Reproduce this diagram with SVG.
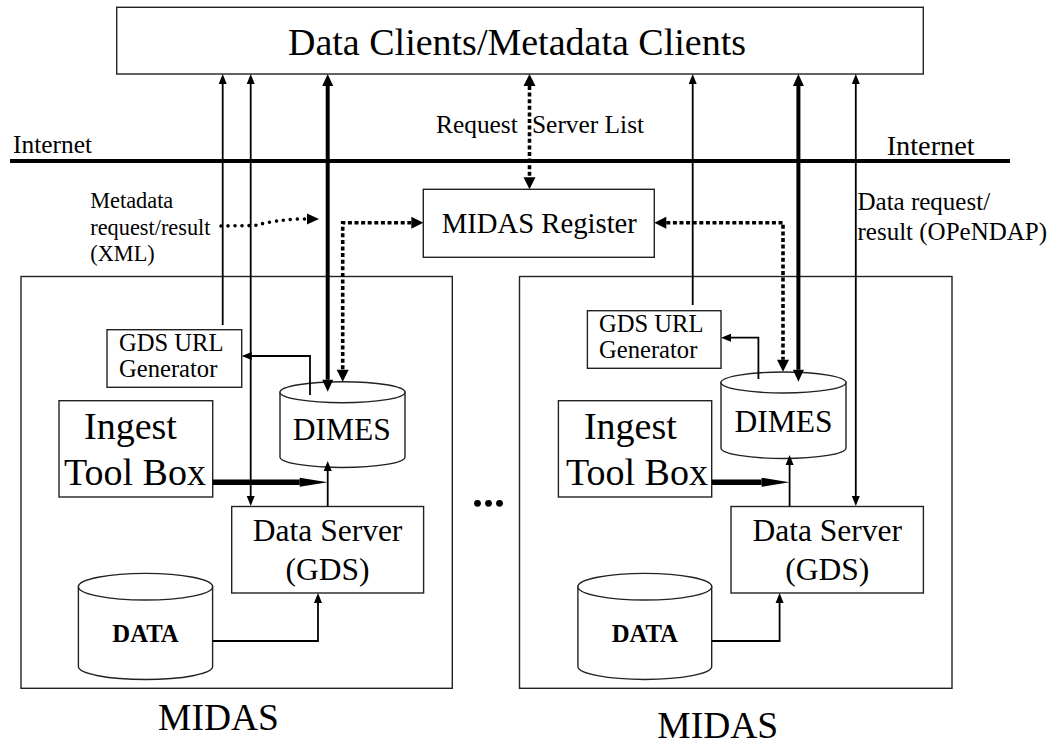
<svg xmlns="http://www.w3.org/2000/svg" width="1055" height="744" viewBox="0 0 1055 744">
  <style>
    text { font-family: "Liberation Serif", "Times New Roman", serif; fill: #000; }
    .box { fill: #fff; stroke: #222; stroke-width: 1.4; }
    .frame { fill: none; stroke: #222; stroke-width: 1.4; }
    .cyl { fill: #fff; stroke: #222; stroke-width: 1.4; }
    .thin { fill: none; stroke: #000; stroke-width: 1.8; }
    .thick { fill: none; stroke: #000; stroke-width: 4; }
    .heavy { fill: none; stroke: #000; stroke-width: 5.5; }
    .dash { fill: none; stroke: #000; stroke-width: 3.6; stroke-dasharray: 4 2.6; }
    .dots { fill: none; stroke: #000; stroke-width: 3.6; stroke-dasharray: 0 7; stroke-linecap: round; }
    .net { fill: none; stroke: #000; stroke-width: 4; }
    .gen { font-size: 24.6px; }
  </style>
  <defs>
    <marker id="ah-thin" markerUnits="userSpaceOnUse" markerWidth="12" markerHeight="10" refX="0" refY="4" orient="auto-start-reverse" viewBox="0 0 12 8" overflow="visible">
      <path d="M0,0 L10,4 L0,8 Z" fill="#000"/>
    </marker>
    <marker id="ah-thick" markerUnits="userSpaceOnUse" markerWidth="14" markerHeight="12" refX="0" refY="5.5" orient="auto-start-reverse" viewBox="0 0 14 11" overflow="visible">
      <path d="M0,0 L12,5.5 L0,11 Z" fill="#000"/>
    </marker>
    <marker id="ah-long" markerUnits="userSpaceOnUse" markerWidth="30" markerHeight="10" refX="0" refY="4.5" orient="auto" viewBox="0 0 30 9" overflow="visible">
      <path d="M0,0 L28,4.5 L0,9 Z" fill="#000"/>
    </marker>
    <marker id="ah-dot" markerUnits="userSpaceOnUse" markerWidth="14" markerHeight="13" refX="0" refY="6" orient="auto-start-reverse" viewBox="0 0 14 12" overflow="visible">
      <path d="M0,0 L12,6 L0,12 Z" fill="#000"/>
    </marker>
  </defs>

  <rect width="1055" height="744" fill="#fff"/>

  <!-- Clients bar -->
  <g id="clients">
    <rect class="box" x="116.7" y="7.3" width="806.6" height="66.7"/>
    <text x="288" y="55" font-size="38">Data Clients/Metadata Clients</text>
  </g>

  <!-- Internet boundary -->
  <g id="internet">
    <line class="net" x1="10" y1="161" x2="1010" y2="161"/>
    <text x="13" y="152.7" font-size="25.4">Internet</text>
    <text x="886.7" y="155" font-size="28.3">Internet</text>
  </g>

  <!-- Registry -->
  <g id="register">
    <rect class="box" x="423.3" y="189.3" width="231" height="68"/>
    <text x="441.7" y="233.3" font-size="28.7">MIDAS Register</text>
  </g>

  <!-- Left MIDAS site -->
  <g id="midas-left">
    <rect class="frame" x="21" y="276.5" width="431.3" height="411.8"/>
    <text x="218.5" y="730" font-size="37.5" text-anchor="middle">MIDAS</text>
  </g>
  <g id="gds-url-left">
    <rect class="box" x="107" y="329.7" width="134.7" height="57.6"/>
    <text class="gen" x="119" y="351">GDS URL</text>
    <text class="gen" x="119" y="377">Generator</text>
  </g>
  <g id="ingest-left">
    <rect class="box" x="59" y="400.7" width="153.7" height="96.3"/>
    <text x="84" y="439" font-size="38">Ingest</text>
    <text x="64" y="485" font-size="38">Tool Box</text>
  </g>
  <g id="dimes-left">
    <path class="cyl" d="M280,392.2 L280,457 A62.5,10.5 0 0 0 405,457 L405,392.2 Z"/>
    <ellipse class="cyl" cx="342.5" cy="392.2" rx="62.5" ry="10.5"/>
    <text x="341.7" y="440" font-size="31.5" text-anchor="middle">DIMES</text>
  </g>
  <g id="server-left">
    <rect class="box" x="231.7" y="506.5" width="191.9" height="86.5"/>
    <text x="327.6" y="541" font-size="31.5" text-anchor="middle">Data Server</text>
    <text x="327.6" y="580" font-size="31.5" text-anchor="middle">(GDS)</text>
  </g>
  <g id="data-left">
    <path class="cyl" d="M78.4,586.7 L78.4,666.5 A67.1,13 0 0 0 212.6,666.5 L212.6,586.7 Z"/>
    <ellipse class="cyl" cx="145.5" cy="586.7" rx="67.1" ry="13.3"/>
    <text x="145.5" y="641.7" font-size="24.7" font-weight="bold" text-anchor="middle">DATA</text>
  </g>

  <!-- Ellipsis between sites -->
  <g id="more-sites">
    <circle cx="477.5" cy="503.3" r="3.4"/>
    <circle cx="488.5" cy="503.3" r="3.4"/>
    <circle cx="499.5" cy="503.3" r="3.4"/>
  </g>

  <!-- Right MIDAS site -->
  <g id="midas-right">
    <rect class="frame" x="519.5" y="276.5" width="432.5" height="411.8"/>
    <text x="717.8" y="738" font-size="37.5" text-anchor="middle">MIDAS</text>
  </g>
  <g id="gds-url-right">
    <rect class="box" x="587.4" y="310.7" width="133.6" height="57.6"/>
    <text class="gen" x="599" y="331.7">GDS URL</text>
    <text class="gen" x="599" y="357.5">Generator</text>
  </g>
  <g id="ingest-right">
    <rect class="box" x="558.4" y="400.7" width="153.3" height="96.3"/>
    <text x="583.9" y="439" font-size="38">Ingest</text>
    <text x="566" y="485" font-size="38">Tool Box</text>
  </g>
  <g id="dimes-right">
    <path class="cyl" d="M721,382.5 L721,448 A62.5,10.5 0 0 0 846,448 L846,382.5 Z"/>
    <ellipse class="cyl" cx="783.5" cy="382.5" rx="62.5" ry="10.5"/>
    <text x="783.5" y="431.7" font-size="31.5" text-anchor="middle">DIMES</text>
  </g>
  <g id="server-right">
    <rect class="box" x="731" y="506.5" width="192.4" height="86.5"/>
    <text x="827.2" y="541" font-size="31.5" text-anchor="middle">Data Server</text>
    <text x="827.2" y="580" font-size="31.5" text-anchor="middle">(GDS)</text>
  </g>
  <g id="data-right">
    <path class="cyl" d="M577.9,586.7 L577.9,666.5 A66.9,13 0 0 0 711.7,666.5 L711.7,586.7 Z"/>
    <ellipse class="cyl" cx="644.8" cy="586.7" rx="66.9" ry="13.3"/>
    <text x="644.8" y="641.7" font-size="24.7" font-weight="bold" text-anchor="middle">DATA</text>
  </g>

  <!-- Connectors -->
  <g id="connectors">
    <!-- left site -->
    <path class="thin" d="M222.7,325 L222.7,84" marker-end="url(#ah-thin)"/>
    <path class="thin" d="M250.7,84 L250.7,496" marker-start="url(#ah-thin)" marker-end="url(#ah-thin)"/>
    <path class="thick" d="M327.7,86 L327.7,379.7" marker-start="url(#ah-thick)" marker-end="url(#ah-thick)"/>
    <path class="thin" d="M310,395 L310,356 L251.7,356" marker-end="url(#ah-thin)"/>
    <path class="dash" d="M411.3,222.7 L342.7,222.7 L342.7,369.7" marker-start="url(#ah-dot)" marker-end="url(#ah-dot)"/>
    <path class="heavy" d="M212.7,482.3 L299.7,482.3" marker-end="url(#ah-long)"/>
    <path class="thin" d="M327.7,506.5 L327.7,471" marker-end="url(#ah-thin)"/>
    <path class="thin" d="M212.6,641 L318,641 L318,603" marker-end="url(#ah-thin)"/>
    <path class="dots" d="M221,226 L255,225.5 Q275,220 300,219 L307,219"/>
    <path d="M307,213.5 L319,219 L307,224.5 Z" fill="#000"/>

    <!-- registry lookup -->
    <path class="dash" d="M529.5,86 L529.5,177.3" marker-start="url(#ah-dot)" marker-end="url(#ah-dot)"/>
    <text x="436" y="132.5" font-size="25.4">Request</text>
    <text x="532" y="132.5" font-size="25.4">Server List</text>
    <text x="90.3" y="208" font-size="22.3">Metadata</text>
    <text x="90.3" y="235" font-size="22.3">request/result</text>
    <text x="90.3" y="260.7" font-size="22.3">(XML)</text>

    <!-- right site -->
    <path class="thin" d="M692.7,305 L692.7,84" marker-end="url(#ah-thin)"/>
    <path class="thick" d="M798.4,86 L798.4,369.7" marker-start="url(#ah-thick)" marker-end="url(#ah-thick)"/>
    <path class="thin" d="M855.8,84 L855.8,496" marker-start="url(#ah-thin)" marker-end="url(#ah-thin)"/>
    <path class="thin" d="M758.4,379 L758.4,337.7 L731,337.7" marker-end="url(#ah-thin)"/>
    <path class="dash" d="M666.3,222.7 L783,222.7 L783,359.7" marker-start="url(#ah-dot)" marker-end="url(#ah-dot)"/>
    <path class="heavy" d="M711.7,482.3 L761.6,482.3" marker-end="url(#ah-long)"/>
    <path class="thin" d="M789.6,506.5 L789.6,465" marker-end="url(#ah-thin)"/>
    <path class="thin" d="M711.7,641 L779.6,641 L779.6,603" marker-end="url(#ah-thin)"/>
    <text x="857.5" y="210" font-size="25">Data request/</text>
    <text x="857.5" y="240" font-size="25">result (OPeNDAP)</text>
  </g>
</svg>
